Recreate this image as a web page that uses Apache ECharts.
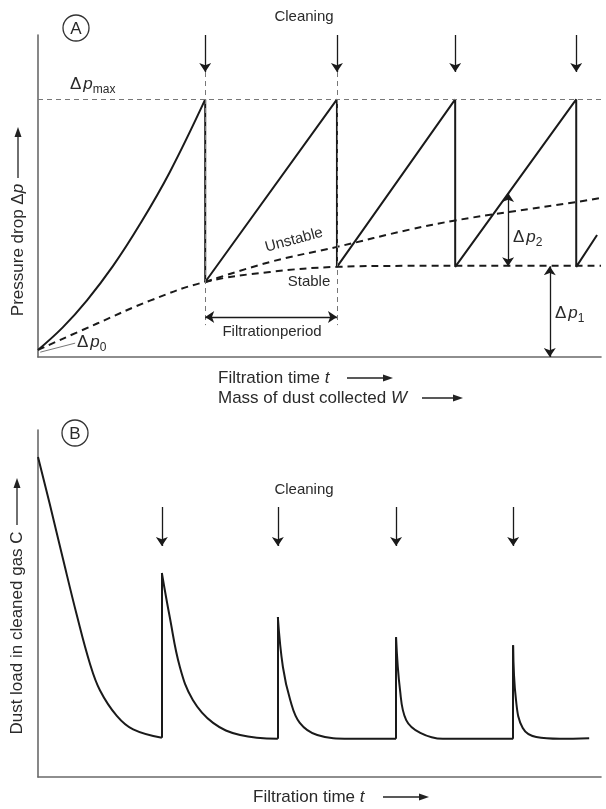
<!DOCTYPE html>
<html lang="en">
<head>
<meta charset="UTF-8">
<title>Filter pressure drop and dust load</title>
<script src="https://cdn.jsdelivr.net/npm/echarts@6/dist/echarts.min.js"></script>
<style>html,body{margin:0;padding:0;background:#fff}</style>
</head>
<body>
<div id="main" style="width:606px;height:809px;"></div>
<script type="text/javascript">
// panel A - pressure drop over filtration time (axes 0..100)
var cleanA = [29.7, 53.1, 74.1, 95.6];
var pMax = 80;
var riseX = [0, 4.4, 8.7, 13.3, 18.1, 23.4, 29.7];
var riseY = [2.2, 9.2, 17.6, 28.2, 41.2, 57.4, 80];
var sawX = [29.7, 29.7, 53.1, 53.1, 74.1, 74.1, 95.6, 95.6, 99.3];
var sawY = [80, 23.3, 80, 28, 80, 28, 80, 28, 37.9];
var stableX = [0, 10.5, 19.9, 29.7, 41.2, 53.1, 65, 80, 100];
var stableY = [2.2, 10.4, 17.5, 23.3, 26.4, 28, 28.3, 28.3, 28.3];
var unstableX = [29.7, 41.2, 53.1, 66.1, 74.1, 83.5, 95.6, 100];
var unstableY = [23.3, 29.5, 34.2, 39.6, 42.4, 45, 48.1, 49.4];
var dp1 = [90.9, 0, 28.2];
var dp2 = [83.5, 28.2, 50.9];
var periodY = 12.4;

// panel B - dust load in cleaned gas
var cleanB = [22.0, 42.6, 63.6, 84.4];
var pulseTop = [58.8, 46.1, 40.3, 38.0];
var decay0X = [0, 2.1, 4.4, 6.9, 9.2, 11.0, 14.0, 16.9, 22.0];
var decay0Y = [92.2, 78.6, 63.1, 46.6, 32.8, 25.0, 17.6, 13.7, 11.3];
var decay1X = [22.0, 23.4, 25.2, 27.5, 31.1, 35.9, 42.6];
var decay1Y = [58.8, 46.1, 31.7, 22.2, 15.6, 12.1, 11.0];
var decay2X = [42.6, 43.5, 44.8, 46.5, 49.6, 55.4, 63.6];
var decay2Y = [46.1, 31.7, 22.2, 15.6, 12.1, 11.0, 11.0];
var decay3X = [63.6, 64.3, 65.4, 67.9, 71.9, 84.4];
var decay3Y = [40.3, 25.1, 16.4, 12.7, 11.0, 11.0];
var decay4X = [84.4, 84.9, 86.1, 88.5, 92.7, 97.9];
var decay4Y = [38.0, 22.2, 14.1, 11.5, 11.0, 11.2];

var FONT = '"Liberation Sans", Arial, sans-serif';
var INK = '#1a1a1a';
var TXT = '#2a2a2a';

function zip(xs, ys) {
    return xs.map(function (x, i) { return [x, ys[i]]; });
}

function axisSet(gi) {
    return {
        type: 'value', min: 0, max: 100, gridIndex: gi,
        axisLine: { show: true, lineStyle: { color: '#6a6a6a', width: 1.6 } },
        axisTick: { show: false }, axisLabel: { show: false }, splitLine: { show: false }
    };
}

function txt(x, y, s, size, opts) {
    opts = opts || {};
    return {
        type: 'text', x: x, y: y, rotation: opts.rot || 0, z: 10,
        style: {
            text: s, fontSize: size, fontFamily: FONT, fill: TXT,
            align: opts.align || 'center', verticalAlign: 'middle',
            rich: {
                i: { fontSize: size, fontFamily: FONT, fontStyle: 'italic', fill: TXT }
            }
        }
    };
}

function dp(x, y, sub) {
    return {
        type: 'text', x: x, y: y, z: 10,
        style: {
            text: '{d|Δ}{i|p}{s|' + sub + '}', align: 'left', verticalAlign: 'middle',
            rich: {
                d: { fontSize: 17, fontFamily: FONT, fill: TXT, lineHeight: 24, padding: [0, 2, 0, 0] },
                i: { fontSize: 17, fontFamily: FONT, fontStyle: 'italic', fill: TXT, lineHeight: 24 },
                s: { fontSize: 12, fontFamily: FONT, fill: TXT, lineHeight: 14, verticalAlign: 'bottom' }
            }
        }
    };
}

function hArrow(x1, x2, y) {
    return [
        { type: 'line', shape: { x1: x1, y1: y, x2: x2 - 5, y2: y }, style: { stroke: '#222', lineWidth: 1.3 } },
        { type: 'polygon', shape: { points: [[x2, y], [x2 - 10, y - 3.5], [x2 - 10, y + 3.5]] }, style: { fill: '#222' } }
    ];
}

function vArrowUp(x, y1, y2) {
    return [
        { type: 'line', shape: { x1: x, y1: y1, x2: x, y2: y2 + 5 }, style: { stroke: '#222', lineWidth: 1.3 } },
        { type: 'polygon', shape: { points: [[x, y2], [x - 3.5, y2 + 10], [x + 3.5, y2 + 10]] }, style: { fill: '#222' } }
    ];
}

function circ(cx, cy, s) {
    return [
        { type: 'circle', shape: { cx: cx, cy: cy, r: 13 }, style: { fill: 'none', stroke: '#333', lineWidth: 1.3 } },
        txt(cx, cy + 1, s, 17)
    ];
}

function solid(data, xi, smooth) {
    return {
        type: 'line', xAxisIndex: xi, yAxisIndex: xi, data: data, symbol: 'none',
        smooth: smooth || false, silent: true,
        lineStyle: { color: INK, width: 2 }
    };
}

function dashed(data) {
    return {
        type: 'line', xAxisIndex: 0, yAxisIndex: 0, data: data, symbol: 'none',
        smooth: 0.4, silent: true,
        lineStyle: { color: INK, width: 2, type: [7, 5] }
    };
}

function arrows(xi, coordsList, sym, style) {
    return {
        type: 'lines', coordinateSystem: 'cartesian2d', xAxisIndex: xi, yAxisIndex: xi,
        symbol: sym, symbolSize: 9, silent: true, z: 5,
        lineStyle: Object.assign({ color: INK, width: 1.3, opacity: 1, curveness: 0 }, style || {}),
        data: coordsList.map(function (c) { return { coords: c }; })
    };
}

var myChart = echarts.init(document.getElementById('main'), null, { renderer: 'canvas' });

var series = [
    solid(zip(riseX, riseY), 0, 0.4),
    solid(zip(sawX, sawY), 0, false),
    dashed(zip(stableX, stableY)),
    dashed(zip(unstableX, unstableY)),
    arrows(0, [
        [[0, pMax], [100, pMax]],
        [[cleanA[0], 88.5], [cleanA[0], 9.9]],
        [[cleanA[1], 88.5], [cleanA[1], 9.9]]
    ], ['none', 'none'], { color: '#777', width: 1, type: [5, 4] }),
    arrows(0, cleanA.map(function (x) { return [[x, 100], [x, 88.5]]; }), ['none', 'arrow']),
    arrows(0, [
        [[cleanA[0], periodY], [cleanA[1], periodY]],
        [[dp1[0], dp1[1]], [dp1[0], dp1[2]]],
        [[dp2[0], dp2[1]], [dp2[0], dp2[2]]]
    ], ['arrow', 'arrow']),
    arrows(0, [[[0.4, 1.5], [6.6, 4.3]]], ['none', 'none'], { color: '#777', width: 1 }),
    solid(zip(decay0X, decay0Y), 1, 0.4),
    solid(zip(decay1X, decay1Y), 1, 0.4),
    solid(zip(decay2X, decay2Y), 1, 0.4),
    solid(zip(decay3X, decay3Y), 1, 0.4),
    solid(zip(decay4X, decay4Y), 1, 0.4),
    arrows(1, cleanB.map(function (x, i) {
        var base = [decay0Y, decay1Y, decay2Y, decay3Y][i];
        return [[x, base[base.length - 1]], [x, pulseTop[i]]];
    }), ['none', 'none'], { width: 2 }),
    arrows(1, cleanB.map(function (x) { return [[x, 77.8], [x, 66.6]]; }), ['none', 'arrow'])
];

var graphics = [].concat(
    circ(76, 28, 'A'),
    txt(304, 17, 'Cleaning', 15),
    dp(70, 84, 'max'),
    dp(77, 342, '0'),
    dp(513, 237, '2'),
    dp(555, 313, '1'),
    txt(294, 240, 'Unstable', 15, { rot: 15 * Math.PI / 180 }),
    txt(309, 282, 'Stable', 15),
    txt(272, 332, 'Filtrationperiod', 15),
    txt(218, 378, 'Filtration time {i|t}', 17, { align: 'left' }),
    hArrow(347, 393, 378),
    txt(218, 398, 'Mass of dust collected {i|W}', 17, { align: 'left' }),
    hArrow(422, 463, 398),
    txt(18, 250, 'Pressure drop Δ{i|p}', 17, { rot: Math.PI / 2 }),
    vArrowUp(18, 178, 127),
    circ(75, 433, 'B'),
    txt(304, 490, 'Cleaning', 15),
    txt(253, 797, 'Filtration time {i|t}', 17, { align: 'left' }),
    hArrow(383, 429, 797),
    txt(17, 633, 'Dust load in cleaned gas C', 17, { rot: Math.PI / 2 }),
    vArrowUp(17, 525, 478)
);

var option = {
    backgroundColor: '#fff',
    animation: false,
    grid: [
        { left: 38, top: 35, width: 563, height: 322 },
        { left: 38, top: 430, width: 563, height: 347 }
    ],
    xAxis: [axisSet(0), axisSet(1)],
    yAxis: [axisSet(0), axisSet(1)],
    series: series,
    graphic: graphics
};
myChart.setOption(option);
</script>
</body>
</html>
